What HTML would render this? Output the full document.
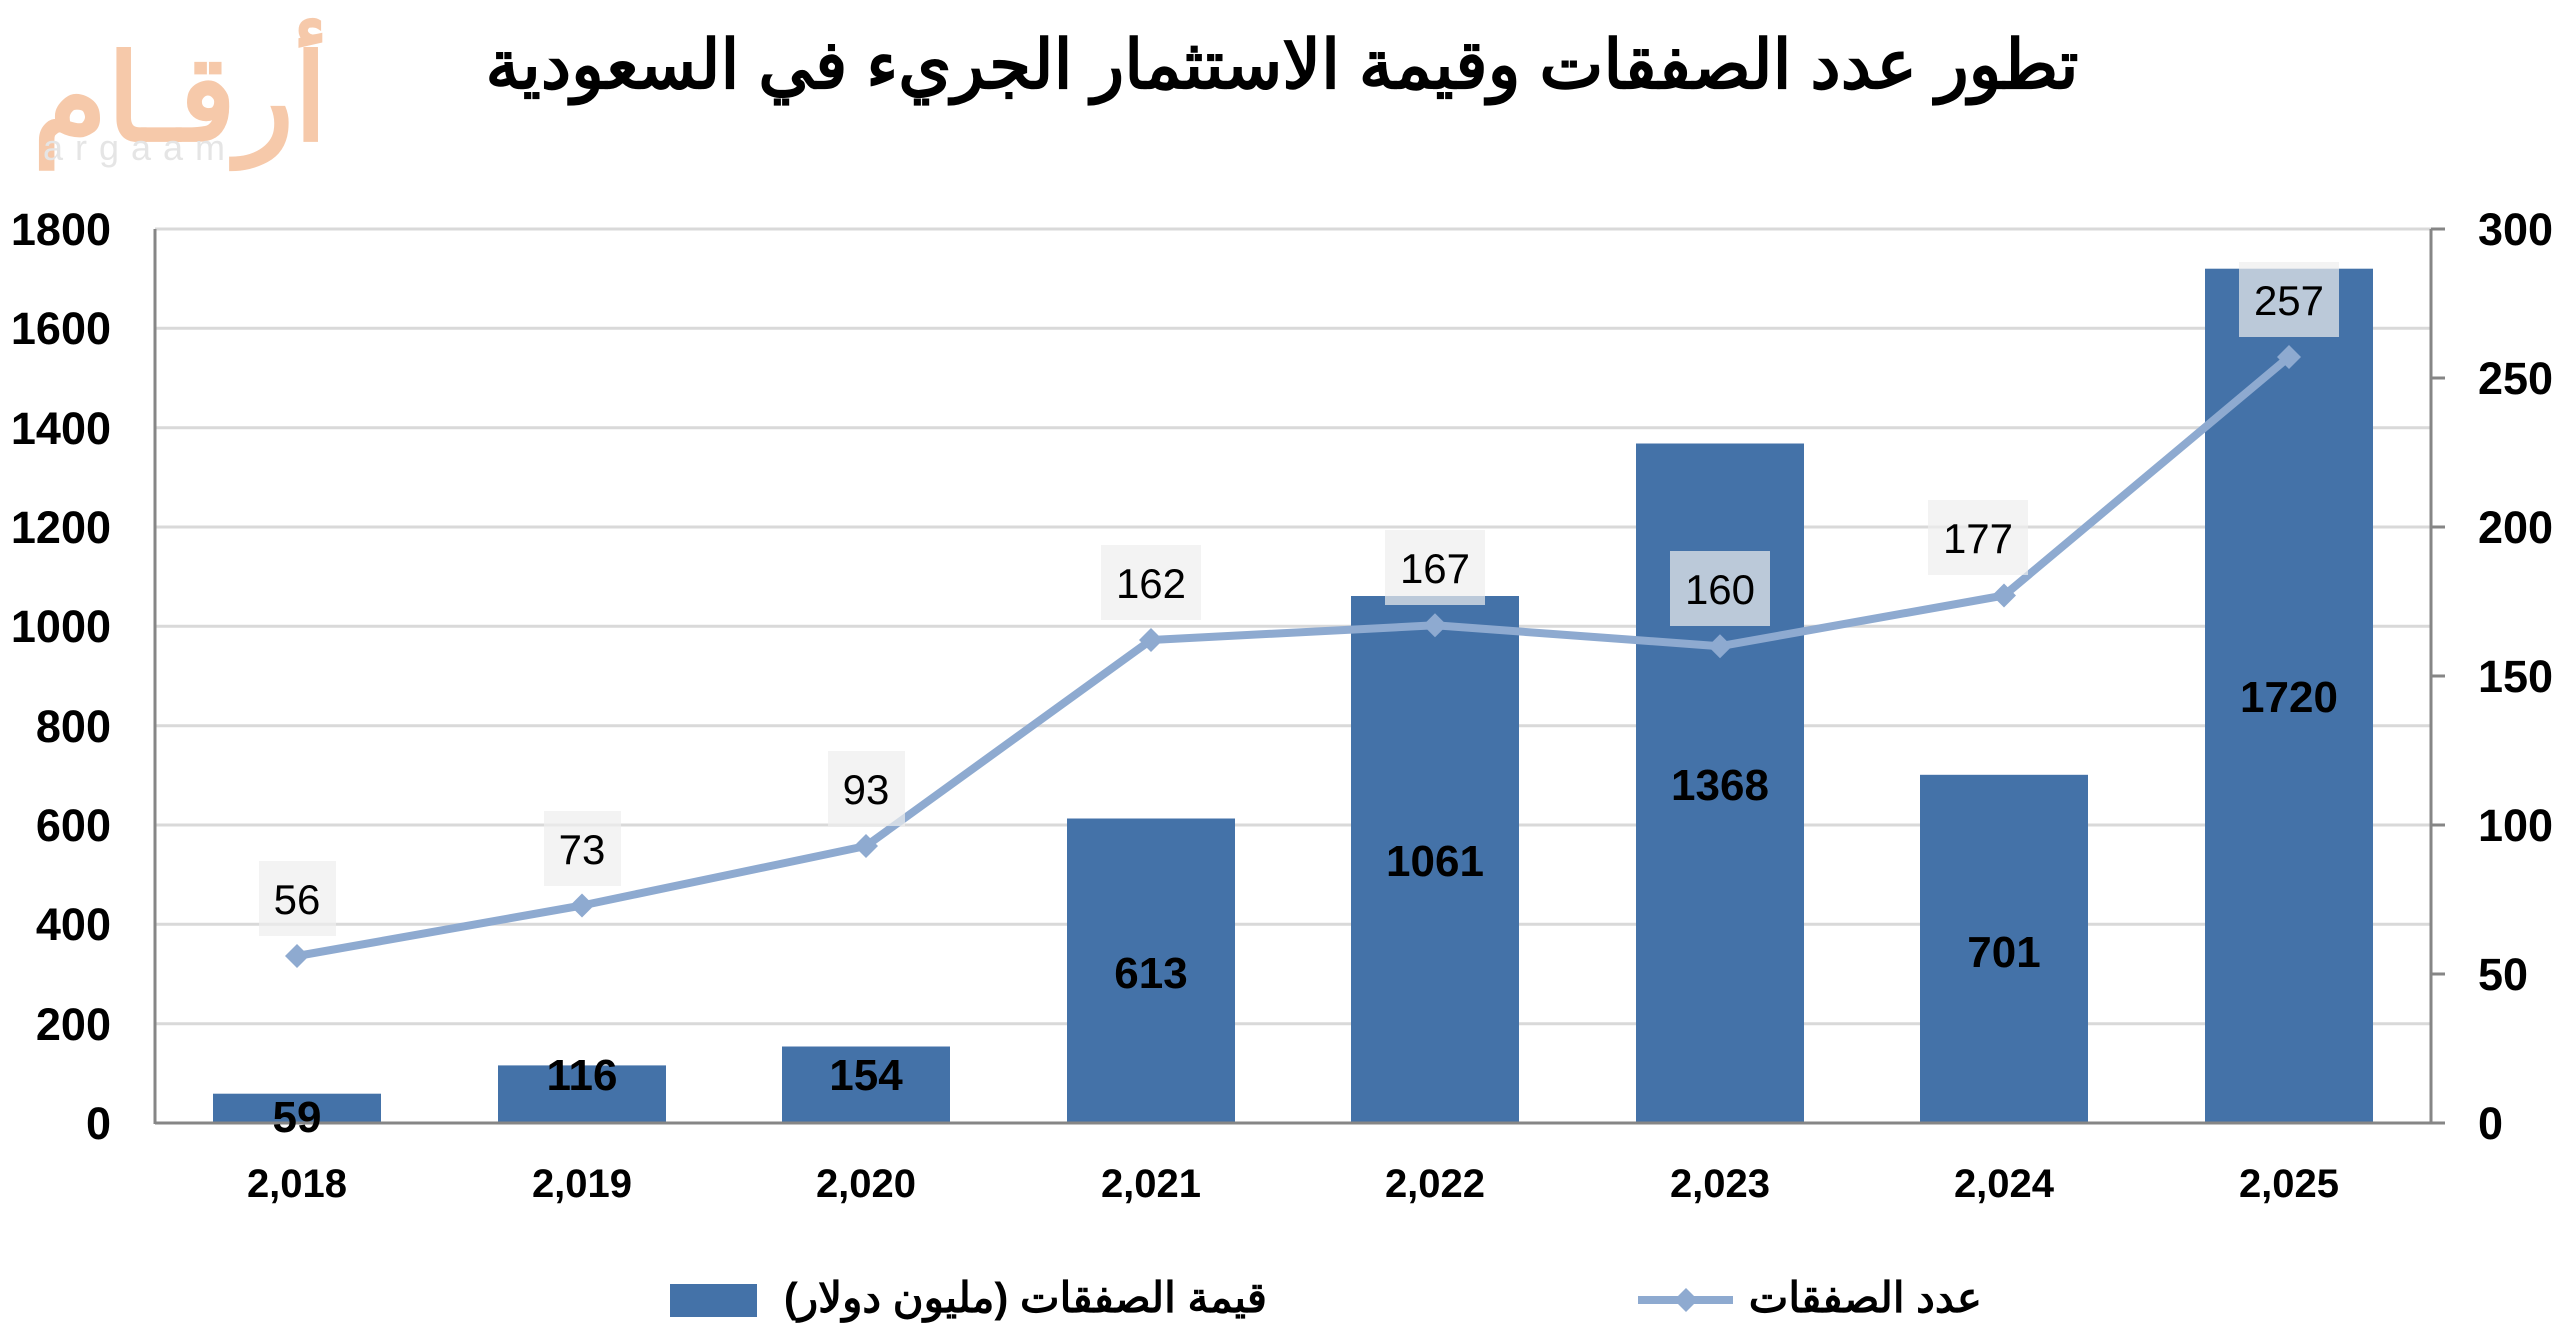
<!DOCTYPE html>
<html><head><meta charset="utf-8"><style>
html,body{margin:0;padding:0;background:#fff;}
svg{display:block;}
text{font-family:"Liberation Sans","Noto Sans CJK SC",sans-serif;}
</style></head><body>
<svg width="2564" height="1342" viewBox="0 0 2564 1342" xmlns="http://www.w3.org/2000/svg">
<!-- logo -->
<text x="180" y="140" text-anchor="middle" font-size="120" font-weight="bold" fill="#f6c9aa" font-family="'Liberation Sans','Noto Sans CJK SC',sans-serif">أرقـام</text>
<text x="140" y="160" text-anchor="middle" font-size="36" fill="#e5e5e5" letter-spacing="12">argaam</text>
<!-- title -->
<text x="1282" y="88" text-anchor="middle" font-size="68" font-weight="bold" fill="#000">تطور عدد الصفقات وقيمة الاستثمار الجريء في السعودية</text>
<!-- gridlines -->
<g stroke="#d9d9d9" stroke-width="3">
<line x1="155" x2="2431" y1="229" y2="229"/>
<line x1="155" x2="2431" y1="328.3" y2="328.3"/>
<line x1="155" x2="2431" y1="427.7" y2="427.7"/>
<line x1="155" x2="2431" y1="527" y2="527"/>
<line x1="155" x2="2431" y1="626.3" y2="626.3"/>
<line x1="155" x2="2431" y1="725.7" y2="725.7"/>
<line x1="155" x2="2431" y1="825" y2="825"/>
<line x1="155" x2="2431" y1="924.3" y2="924.3"/>
<line x1="155" x2="2431" y1="1023.7" y2="1023.7"/>
</g>
<!-- bars -->
<g fill="#4472a8">
<rect x="213" y="1093.7" width="168" height="29.3"/>
<rect x="498" y="1065.4" width="168" height="57.6"/>
<rect x="782" y="1046.5" width="168" height="76.5"/>
<rect x="1067" y="818.5" width="168" height="304.5"/>
<rect x="1351" y="596" width="168" height="527"/>
<rect x="1636" y="443.5" width="168" height="679.5"/>
<rect x="1920" y="774.8" width="168" height="348.2"/>
<rect x="2205" y="268.7" width="168" height="854.3"/>
</g>
<!-- axes -->
<g stroke="#868686" stroke-width="3">
<line x1="155" x2="155" y1="229" y2="1124"/>
<line x1="155" x2="2431" y1="1123" y2="1123"/>
<line x1="2431" x2="2431" y1="229" y2="1124"/>
<line x1="2431" x2="2445" y1="229" y2="229"/>
<line x1="2431" x2="2445" y1="378" y2="378"/>
<line x1="2431" x2="2445" y1="527" y2="527"/>
<line x1="2431" x2="2445" y1="676" y2="676"/>
<line x1="2431" x2="2445" y1="825" y2="825"/>
<line x1="2431" x2="2445" y1="974" y2="974"/>
<line x1="2431" x2="2445" y1="1123" y2="1123"/>
</g>
<!-- line -->
<polyline fill="none" stroke="#8eaad0" stroke-width="8" stroke-linejoin="round" points="297,956 582,905.5 866,846 1151,640 1435,625.3 1720,646.2 2004,595.5 2289,357"/>
<g fill="#8eaad0">
<path d="M297,944 l12,12 l-12,12 l-12,-12z"/>
<path d="M582,893.5 l12,12 l-12,12 l-12,-12z"/>
<path d="M866,834 l12,12 l-12,12 l-12,-12z"/>
<path d="M1151,628 l12,12 l-12,12 l-12,-12z"/>
<path d="M1435,613.3 l12,12 l-12,12 l-12,-12z"/>
<path d="M1720,634.2 l12,12 l-12,12 l-12,-12z"/>
<path d="M2004,583.5 l12,12 l-12,12 l-12,-12z"/>
<path d="M2289,345 l12,12 l-12,12 l-12,-12z"/>
</g>
<!-- line labels -->
<g fill="rgba(238,238,238,0.7)">
<rect x="259" y="861" width="77" height="75"/>
<rect x="544" y="811" width="77" height="75"/>
<rect x="828" y="751" width="77" height="75"/>
<rect x="1101" y="545" width="100" height="75"/>
<rect x="1385" y="530" width="100" height="75"/>
<rect x="1670" y="551" width="100" height="75"/>
<rect x="1928" y="500" width="100" height="75"/>
<rect x="2239" y="262" width="100" height="75"/>
</g>
<g font-size="42" text-anchor="middle" fill="#000">
<text x="297" y="914">56</text>
<text x="582" y="864">73</text>
<text x="866" y="804">93</text>
<text x="1151" y="598">162</text>
<text x="1435" y="583">167</text>
<text x="1720" y="604">160</text>
<text x="1978" y="553">177</text>
<text x="2289" y="315">257</text>
</g>
<!-- bar labels -->
<g font-size="44" font-weight="bold" text-anchor="middle" fill="#000">
<text x="297" y="1132">59</text>
<text x="582" y="1090">116</text>
<text x="866" y="1090">154</text>
<text x="1151" y="988">613</text>
<text x="1435" y="876">1061</text>
<text x="1720" y="800">1368</text>
<text x="2004" y="967">701</text>
<text x="2289" y="712">1720</text>
</g>
<!-- left axis labels -->
<g font-size="45" font-weight="bold" text-anchor="end" fill="#000">
<text x="111" y="245">1800</text>
<text x="111" y="344">1600</text>
<text x="111" y="444">1400</text>
<text x="111" y="543">1200</text>
<text x="111" y="642">1000</text>
<text x="111" y="742">800</text>
<text x="111" y="841">600</text>
<text x="111" y="940">400</text>
<text x="111" y="1040">200</text>
<text x="111" y="1139">0</text>
</g>
<g font-size="45" font-weight="bold" text-anchor="start" fill="#000">
<text x="2478" y="245">300</text>
<text x="2478" y="394">250</text>
<text x="2478" y="543">200</text>
<text x="2478" y="692">150</text>
<text x="2478" y="841">100</text>
<text x="2478" y="990">50</text>
<text x="2478" y="1139">0</text>
</g>
<!-- x labels -->
<g font-size="40" font-weight="bold" text-anchor="middle" fill="#000">
<text x="297" y="1197">2,018</text>
<text x="582" y="1197">2,019</text>
<text x="866" y="1197">2,020</text>
<text x="1151" y="1197">2,021</text>
<text x="1435" y="1197">2,022</text>
<text x="1720" y="1197">2,023</text>
<text x="2004" y="1197">2,024</text>
<text x="2289" y="1197">2,025</text>
</g>
<!-- legend -->
<rect x="670" y="1284" width="87" height="33" fill="#4472a8"/>
<text x="1267" y="1312" text-anchor="end" font-size="42" font-weight="bold" fill="#000">قيمة الصفقات (مليون دولار)</text>
<line x1="1638" x2="1733" y1="1300" y2="1300" stroke="#8eaad0" stroke-width="8"/>
<path d="M1686,1288 l12,12 l-12,12 l-12,-12z" fill="#8eaad0"/>
<text x="1982" y="1312" text-anchor="end" font-size="42" font-weight="bold" fill="#000">عدد الصفقات</text>
</svg>
</body></html>
